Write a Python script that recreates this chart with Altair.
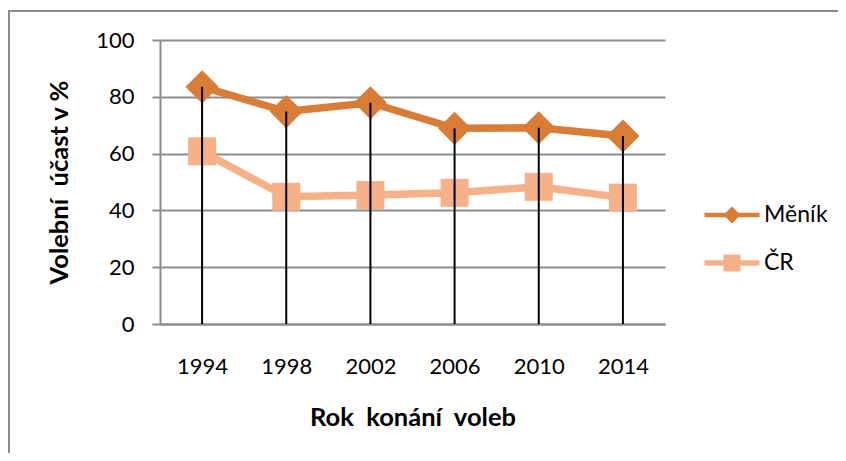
import altair as alt
import pandas as pd

years = ["1994", "1998", "2002", "2006", "2010", "2014"]
menik = [83.5, 74.8, 77.9, 68.9, 69.1, 66.2]
cr = [60.8, 44.8, 45.4, 46.2, 48.3, 44.5]
series_names = ["Měník", "ČR"]
series_colors = ["#D97C35", "#F6B189"]
y_ticks = [0, 20, 40, 60, 80, 100]

rows = []
for name, vals in zip(series_names, [menik, cr]):
    for yr, v in zip(years, vals):
        rows.append({"rok": yr, "serie": name, "ucast": v})
df = pd.DataFrame(rows)
drop = pd.DataFrame({"rok": years, "ucast": menik, "zero": [0] * len(years)})

FONT = "Lato"
GRAY = "#8C8C8C"

x_enc = alt.X(
    "rok:O", sort=years, scale=alt.Scale(type="point", padding=0.5),
    axis=alt.Axis(title="Rok\u00a0\u00a0konání\u00a0\u00a0voleb", labelAngle=0, ticks=False,
                  labelPadding=32, titlePadding=28, domainColor=GRAY, domainWidth=2,
                  grid=False),
)
y_enc = alt.Y(
    "ucast:Q", scale=alt.Scale(domain=[0, 100], nice=False),
    axis=alt.Axis(title="Volební\u00a0\u00a0účast v %", values=y_ticks, tickSize=8,
                  tickColor=GRAY, tickWidth=2, labelPadding=18, titlePadding=23,
                  domainColor=GRAY, domainWidth=2, gridColor=GRAY, gridWidth=2),
)
color_scale = alt.Scale(domain=series_names, range=series_colors)

menik_path = "M-2.75,-0.22L-0.63,-0.22L0,-0.85L0.63,-0.22L2.75,-0.22L2.75,0.22L0.63,0.22L0,0.85L-0.63,0.22L-2.75,0.22Z"
cr_path = "M-2.75,-0.28L-0.85,-0.28L-0.85,-0.85L0.85,-0.85L0.85,-0.28L2.75,-0.28L2.75,0.28L0.85,0.28L0.85,0.85L-0.85,0.85L-0.85,0.28L-2.75,0.28Z"
legend_paths = [menik_path, cr_path]

one = alt.Data(values=[{"a": 1}])

frame_top = alt.Chart(one).mark_rule(color=GRAY, strokeWidth=2).encode(
    x=alt.value(-151), x2=alt.value(720), y=alt.value(-29))
frame_left = alt.Chart(one).mark_rule(color=GRAY, strokeWidth=2).encode(
    x=alt.value(-151), y=alt.value(-30), y2=alt.value(720))

lines = alt.Chart(df).mark_line(strokeWidth=7.5).encode(
    x=x_enc, y=y_enc,
    color=alt.Color("serie:N", scale=color_scale, legend=None),
    detail="serie:N",
)

points = alt.Chart(df).mark_point(filled=True, opacity=1).encode(
    x=x_enc, y=y_enc,
    color=alt.Color("serie:N", scale=color_scale, legend=None),
    shape=alt.Shape("serie:N", scale=alt.Scale(domain=series_names, range=["diamond", "square"]), legend=None),
    size=alt.Size("serie:N", scale=alt.Scale(domain=series_names, range=[1100, 784]), legend=None),
)

rules = alt.Chart(drop).mark_rule(color="black", strokeWidth=2).encode(
    x=x_enc, y=y_enc, y2="zero:Q"
)

legend_layers = []
for i, (name, col, path) in enumerate(zip(series_names, series_colors, legend_paths)):
    ly = 175 + 48 * i
    legend_layers.append(
        alt.Chart(alt.Data(values=[{"serie": name}])).mark_point(
            shape=path, size=400, filled=True, opacity=1, color=col
        ).encode(x=alt.value(572), y=alt.value(ly))
    )
    legend_layers.append(
        alt.Chart(alt.Data(values=[{"serie": name}])).mark_text(
            align="left", baseline="middle", font=FONT, fontSize=23, color="black"
        ).encode(x=alt.value(604), y=alt.value(ly), text="serie:N")
    )

chart = alt.layer(frame_top, frame_left, lines, points, rules, *legend_layers).properties(
    width=505, height=284, background="white",
    autosize=alt.AutoSizeParams(type="none"),
    padding={"left": 152, "top": 32, "right": 173, "bottom": 129},
).configure_view(stroke="transparent").configure_axis(
    labelFont=FONT, labelFontSize=22, labelColor="black",
    titleFont=FONT, titleFontSize=25.5, titleFontWeight="bold", titleColor="black",
)

chart.save("out.html", embed_options={"renderer": "svg", "actions": False})
